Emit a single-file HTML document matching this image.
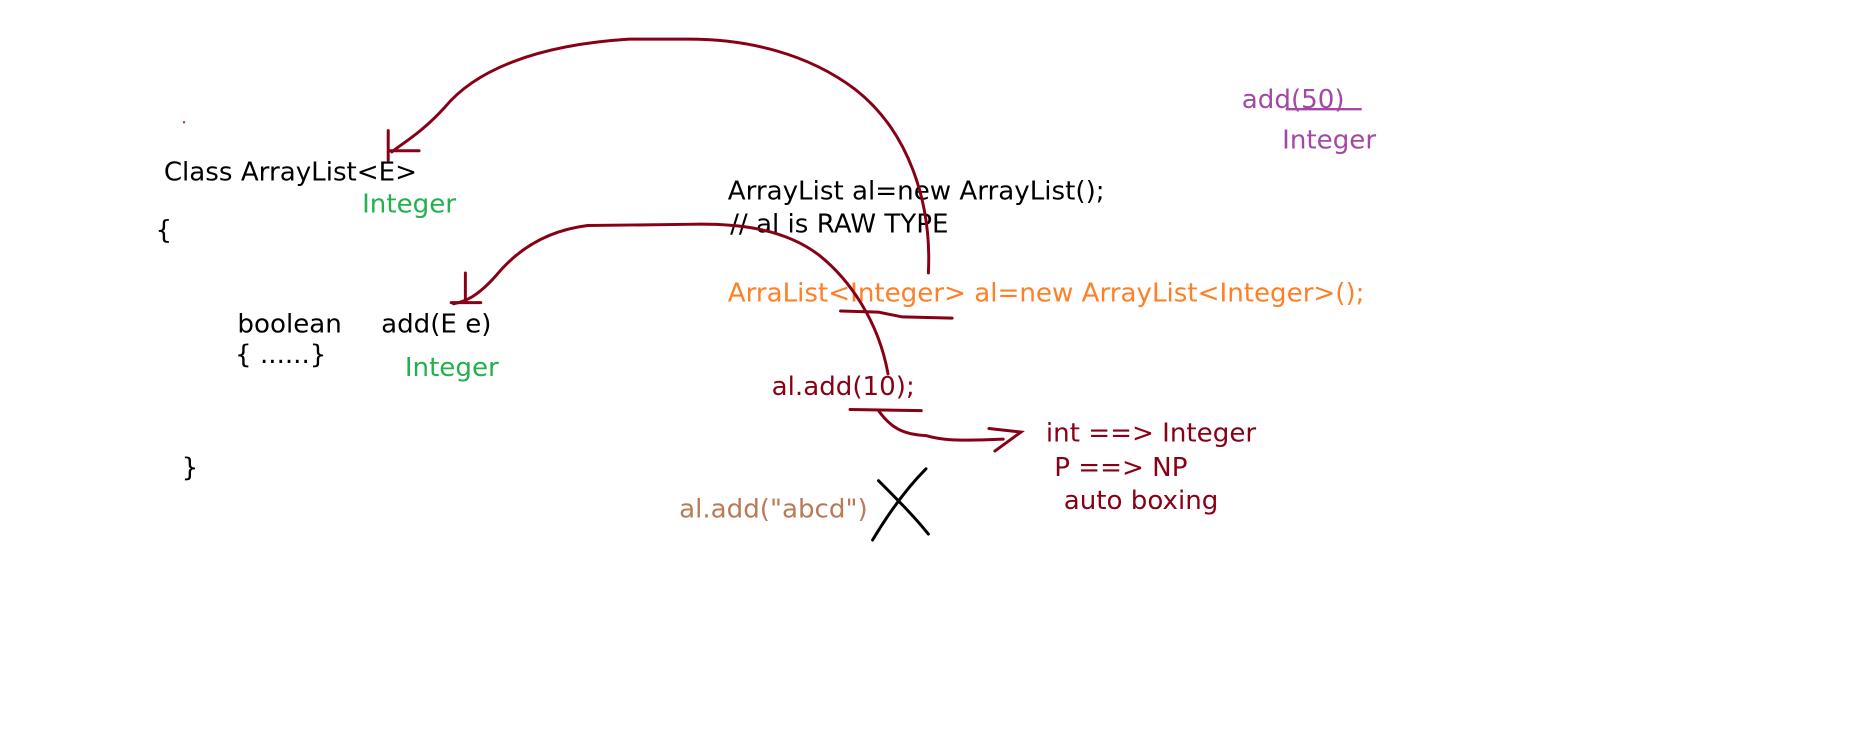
<!DOCTYPE html>
<html><head><meta charset="utf-8"><style>
html,body{margin:0;padding:0;background:#fff;}
svg{display:block;}
text{font-family:"DejaVu Sans","Liberation Sans",sans-serif;font-size:22px;}
</style></head><body>
<svg width="1852" height="743" viewBox="0 0 1560 626" preserveAspectRatio="none" xmlns="http://www.w3.org/2000/svg">
<rect width="1560" height="626" fill="#fff"/>
<circle cx="155" cy="103" r="1" fill="#a0208f"/>
<text x="138" y="152" fill="#000">Class ArrayList&lt;E&gt;</text>
<text x="305" y="179" fill="#22b14c">Integer</text>
<text x="131" y="201" fill="#000">{</text>
<text x="200" y="280" fill="#000">boolean</text>
<text x="321" y="280" fill="#000">add(E e)</text>
<text x="198" y="306" fill="#000">{ ......}</text>
<text x="341" y="317" fill="#22b14c">Integer</text>
<text x="153" y="401" fill="#000">}</text>
<text x="613" y="168" fill="#000">ArrayList al=new ArrayList();</text>
<text x="615" y="196" fill="#000">// al is RAW TYPE</text>
<text x="613" y="254" fill="#ff7f27">ArraList&lt;Integer&gt; al=new ArrayList&lt;Integer&gt;();</text>
<text x="650" y="333" fill="#880015">al.add(10);</text>
<text x="881" y="372" fill="#880015">int ==&gt; Integer</text>
<text x="888" y="401" fill="#880015">P  ==&gt;  NP</text>
<text x="896" y="429" fill="#880015">auto boxing</text>
<text x="572" y="436" fill="#b97a57">al.add("abcd")</text>
<text x="1046" y="91" fill="#a349a4">add(50)</text>
<text x="1080" y="125" fill="#a349a4">Integer</text>
<g fill="none" stroke="#880015" stroke-width="2.5" stroke-linecap="round">
<path d="M782,230 C785,170 765,110 720,75 C680,45 630,33 580,33 L530,33 C450,38 400,60 375,90 C355,112 340,120 330,128"/>
<path d="M327,110 L327,135 M327,127 L353,127"/>
<path d="M748,315 C740,270 715,235 690,215 C660,192 620,188 580,189 L495,190 C455,195 432,215 418,232 C402,250 392,254 382,256"/>
<path d="M392,230 L392,254 M380,255 L405,255"/>
<path d="M708,262 L740,263 L760,267 L802,268"/>
<path d="M716,345 L776,346"/>
<path d="M740,346 C750,360 760,366 780,367 C790,370 800,372 845,370"/>
<path d="M833,361 L860,364 L838,380"/>
</g>
<path d="M1083,92 L1147,92" stroke="#a349a4" stroke-width="2" fill="none"/>
<g fill="none" stroke="#000" stroke-width="2.5" stroke-linecap="round">
<path d="M735,455 C750,430 765,410 780,395"/>
<path d="M740,405 C755,420 770,435 782,450"/>
</g>
</svg>
</body></html>
